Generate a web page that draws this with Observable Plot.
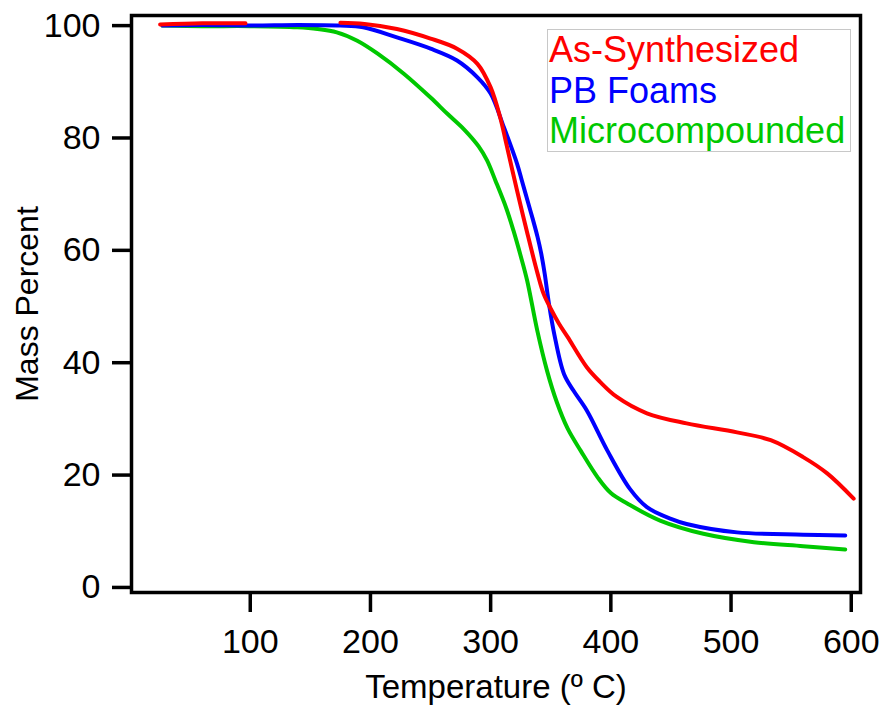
<!DOCTYPE html>
<html>
<head>
<meta charset="utf-8">
<script src="https://cdn.jsdelivr.net/npm/d3@7"></script>
<script src="https://cdn.jsdelivr.net/npm/@observablehq/plot@0.6"></script>
<style>
  html, body { margin: 0; padding: 0; background: #fff; }
  #chart { position: relative; width: 885px; height: 706px; font-family: "Liberation Sans", Arial, sans-serif; }
  #legend { position: absolute; left: 547px; top: 29px; width: 302px; height: 121px;
            border: 1px solid #c8c8c8; background: #fff; font-size: 36px; line-height: 40.5px;
            padding: 0; box-sizing: content-box; }
  #legend div { padding-left: 1px; white-space: nowrap; }
</style>
</head>
<body>
<div id="chart"></div>
<script>
// Series names & colours
const seriesNames = ["As-Synthesized", "PB Foams", "Microcompounded"];
const seriesColors = ["#ff0000", "#0000ff", "#00c800"];

// As-Synthesized (red) — null marks the gap in the trace
const tempRed = [25, 60, 96, 135, 175, 195, 222, 250, 272, 289, 300, 308, 313, 322, 330, 339, 344, 350, 357, 364, 380, 391, 405, 430, 463, 505, 533, 560, 580, 602];
const massRed = [100.2, 100.4, 100.4, null, 100.5, 100.3, 99.4, 97.7, 95.9, 93.2, 89, 83.6, 79, 70.6, 63.5, 55.9, 52.3, 49.6, 46.9, 44.6, 39.2, 36.6, 33.9, 31, 29.2, 27.6, 26.2, 23.2, 20.3, 15.8];

// PB Foams (blue)
const tempBlue = [27, 60, 100, 140, 175, 194, 222, 250, 272, 289, 300, 311, 322, 326, 331, 335, 339, 342, 345, 348.5, 353, 361, 369, 380, 397, 416, 430, 450, 463, 505, 560, 595];
const massBlue = [100, 100.1, 100, 100.1, 100, 99.7, 97.9, 95.9, 93.8, 90.8, 87.9, 81.9, 75.4, 72.4, 68.6, 65.6, 62.4, 59.5, 55.8, 50.5, 45, 38, 35, 31.5, 24.4, 17.5, 14.3, 12.2, 11.3, 9.8, 9.4, 9.25];

// Microcompounded (green)
const tempGreen = [27, 60, 100, 139, 156, 172, 189, 206, 228, 250, 264, 278, 290, 297, 304, 313, 319, 325, 330.4, 338.8, 347, 355, 364, 375, 389, 400, 414, 441, 477, 519, 560, 595];
const massGreen = [100, 99.9, 99.9, 99.7, 99.4, 98.8, 97.3, 95, 91.4, 87.2, 84.3, 81.5, 78.5, 76, 72.4, 67.5, 63.5, 59, 54.6, 45.7, 38.5, 33, 28.3, 24.3, 19.6, 16.8, 14.9, 11.9, 9.55, 8.06, 7.35, 6.76];

// Axes
const xTicks = [100, 200, 300, 400, 500, 600];
const yTicks = [0, 20, 40, 60, 80, 100];
const xLabel = "Temperature (º C)";
const yLabel = "Mass Percent";

const toRows = (ts, ms, name) => ts.map((t, i) => ({temp: t, mass: ms[i], series: name}));
const rows = [
  ...toRows(tempGreen, massGreen, seriesNames[2]),
  ...toRows(tempBlue, massBlue, seriesNames[1]),
  ...toRows(tempRed, massRed, seriesNames[0])
];

const plot = Plot.plot({
  width: 885,
  height: 706,
  marginLeft: 131,
  marginRight: 25,
  marginTop: 15,
  marginBottom: 114,
  style: { fontFamily: '"Liberation Sans", Arial, sans-serif', fontSize: "34px", color: "black", background: "white" },
  x: { domain: [1.2, 607.7] },
  y: { domain: [-0.9, 101.8] },
  color: { domain: seriesNames, range: seriesColors },
  marks: [
    Plot.line(rows, { x: "temp", y: "mass", z: "series", stroke: "series", strokeWidth: 4, curve: "catmull-rom" }),
    Plot.frame({ stroke: "black", strokeWidth: 3.5 }),
    Plot.axisX({ ticks: xTicks, tickSize: 20, tickPadding: 16, strokeWidth: 3.5, fontSize: 34, label: null, stroke: "black", fill: "black" }),
    Plot.axisY({ ticks: yTicks, tickSize: 19, tickPadding: 12, strokeWidth: 3.5, fontSize: 34, label: null, stroke: "black", fill: "black" }),
    Plot.text([xLabel], { text: d => d, frameAnchor: "bottom", lineAnchor: "middle", textAnchor: "middle", dy: 95, fontSize: 33, fill: "black" }),
    Plot.text([yLabel], { text: d => d, frameAnchor: "left", lineAnchor: "middle", textAnchor: "middle", dx: -104, rotate: -90, fontSize: 32, fill: "black" })
  ]
});

const chart = document.getElementById("chart");
chart.appendChild(plot);

const legend = document.createElement("div");
legend.id = "legend";
seriesNames.forEach((n, i) => {
  const d = document.createElement("div");
  d.textContent = n;
  d.style.color = seriesColors[i];
  legend.appendChild(d);
});
chart.appendChild(legend);
</script>
</body>
</html>
